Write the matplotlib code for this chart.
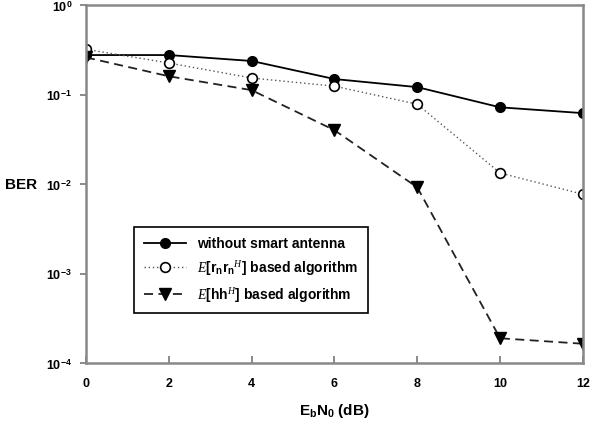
import numpy as np
import matplotlib
matplotlib.use("Agg")
import matplotlib.pyplot as plt

plt.rcParams['font.family'] = ['Liberation Sans', 'DejaVu Sans']
plt.rcParams['mathtext.fontset'] = 'custom'
plt.rcParams['mathtext.it'] = 'Liberation Serif:italic'
plt.rcParams['mathtext.rm'] = 'Liberation Sans:bold'

snr = [0, 2, 4, 6, 8, 10, 12]
ber_no_antenna = [0.276, 0.276, 0.237, 0.149, 0.121, 0.072, 0.062]
ber_rr = [0.32, 0.225, 0.153, 0.124, 0.078, 0.0133, 0.0077]
ber_hh = [0.26, 0.16, 0.112, 0.040, 0.0092, 1.9e-4, 1.65e-4]

fig = plt.figure(figsize=(5.93, 4.27), dpi=100)
ax = fig.add_axes([0.145, 0.147, 0.838, 0.839])

ax.plot(snr, ber_no_antenna, color="black", linestyle="-", linewidth=1.3,
        marker="o", markersize=7, label="without smart antenna")
ax.plot(snr, ber_rr, color="#555555", linestyle=(0, (1, 2)), linewidth=1.0,
        marker="o", markersize=7, markerfacecolor="white", markeredgecolor="black",
        markeredgewidth=1.2, label=r"$E$[r$_\mathrm{n}$r$_\mathrm{n}$$^{H}$] based algorithm")
ax.plot(snr, ber_hh, color="#222222", linestyle=(0, (5, 3)), linewidth=1.3,
        marker="v", markersize=8, markerfacecolor="black", markeredgecolor="black",
        label=r"$E$[hh$^{H}$] based algorithm")

ax.set_yscale("log")
ax.set_xlim(0, 12)
ax.set_ylim(1e-4, 1)
ax.set_xticks(snr)
ax.set_xticklabels([str(v) for v in snr], fontsize=9, fontweight="bold")
ax.set_yticks([1e-4, 1e-3, 1e-2, 1e-1, 1])
ax.set_yticklabels([r"10$^{-4}$", r"10$^{-3}$", r"10$^{-2}$", r"10$^{-1}$", r"10$^{0}$"],
                   fontsize=9, fontweight="bold")
ax.minorticks_off()
ax.tick_params(axis="x", direction="in", length=5, width=1.2, color="#777777", pad=10)
ax.tick_params(axis="y", direction="out", length=4, width=1.2, color="#777777", pad=6)
for s in ax.spines.values():
    s.set_color("#888888")
    s.set_linewidth(1.8)

ax.set_xlabel(r"E$_\mathrm{b}$N$_\mathrm{0}$ (dB)", fontsize=11, fontweight="bold")
ax.xaxis.set_label_coords(0.5, -0.105)
ax.set_ylabel("BER", fontsize=11, fontweight="bold", rotation=0, va="center")
ax.yaxis.set_label_coords(-0.13, 0.5)

leg = ax.legend(loc="lower left", bbox_to_anchor=(0.083, 0.12),
                prop={"weight": "bold", "size": 10}, fancybox=False, framealpha=1,
                edgecolor="black", handlelength=3.0, borderpad=0.7, labelspacing=0.55)
leg.get_frame().set_linewidth(1.2)

fig.savefig("out.png", dpi=100)
